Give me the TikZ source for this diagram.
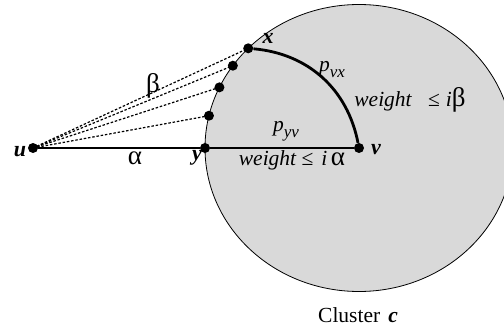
\documentclass[tikz,border=0pt]{standalone}
\usepackage{fontspec}
\setmainfont{Liberation Serif}
\usetikzlibrary{calc}
\definecolor{ClusterGray}{HTML}{D9D9D9}

\tikzset{
  dot/.style={circle,fill=black,inner sep=0pt,minimum size=10pt},
  lbl/.style={inner sep=0pt,font=\fontsize{21.5}{25}\selectfont},
  vname/.style={lbl,font=\fontsize{22}{25}\selectfont\bfseries\itshape},
  heavy/.style={line width=2.8pt},
  hint/.style={line width=1.2pt,dash pattern=on 2.5pt off 1.8pt}
}
\newcommand{\pathlbl}[2]{\textit{#1}\raisebox{-6pt}{\fontsize{17}{17}\selectfont\textit{#2}}}
\newcommand{\gk}[1]{{\fontsize{27}{27}\selectfont #1}}

\begin{document}
\begin{tikzpicture}[x=1pt,y=-1pt]
    \useasboundingbox (0,0) rectangle (504,329);
    \clip (0,0) rectangle (504,329);
    % cluster
    \coordinate (ctr) at (359,148);
    \draw[fill=ClusterGray,line width=0.8pt] (ctr) ellipse[x radius=154pt,y radius=143.5pt];
    % vertices
    \node[dot] (v) at (ctr) {};
    \node[dot] (u) at (33,148) {};
    \node[dot] (y) at ($(ctr)+(180:154pt and 143.5pt)$) {};
    \node[dot] (x) at ($(ctr)+(136:154pt and 143.5pt)$) {};
    \node[dot] (w1) at ($(ctr)+(145:154pt and 143.5pt)$) {};
    \node[dot] (w2) at ($(ctr)+(155:154pt and 143.5pt)$) {};
    \node[dot] (w3) at ($(ctr)+(167:154pt and 143.5pt)$) {};
    % paths
    \draw[heavy] (u) -- (y) -- (v);
    \draw[heavy] (x) to[bend left=37] (v);
    \foreach \w in {x,w1,w2,w3}
      \draw[hint] (u.center) -- (\w.center);
    % labels
    \node[vname] (ulbl) at (20,152) {u};
    \node[vname] (ylbl) at (197,158) {y};
    \node[vname] (xlbl) at (268,38) {x};
    \node[vname] (vlbl) at (376,150) {v};
    \node[lbl] (alpha) at (135,158) {\gk{α}};
    \node[lbl] (beta) at (153,86) {\gk{β}};
    \node[lbl] (pvx) at (332,70) {\pathlbl{p}{vx}};
    \node[lbl] (wvx) at (410,100) {\textit{weight}\hspace{16pt}≤\hspace{6pt}\textit{i}\gk{β}};
    \node[lbl] (pyv) at (286,131) {\pathlbl{p}{yv}};
    \node[lbl] (wyv) at (292,160) {\textit{weight}\hspace{5pt}≤\hspace{8pt}\textit{i}\,\gk{α}};
    \node[lbl] (clus) at (358,315) {Cluster\hspace{8pt}\textbf{\textit{c}}};
\end{tikzpicture}
\end{document}
